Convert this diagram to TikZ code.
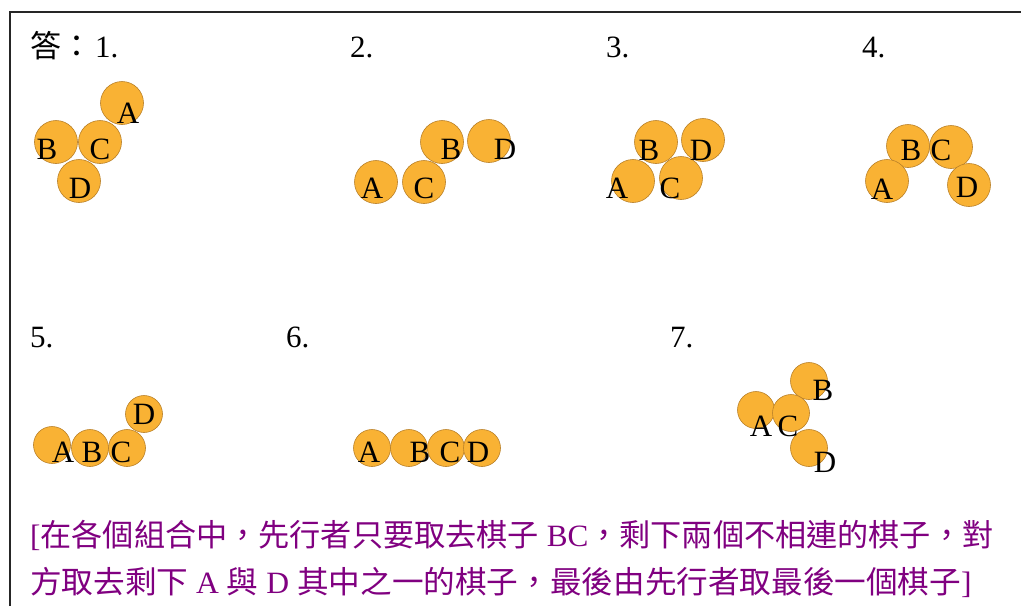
\documentclass[tikz,border=0pt]{standalone}
\usepackage{fontspec}
\setmainfont{Liberation Serif}
\newfontfamily\cjk{Noto Sans CJK TC}
\newcommand\zh[1]{{\cjk #1}}
\definecolor{chipfill}{RGB}{249,178,52}
\definecolor{chipedge}{RGB}{185,128,40}
\definecolor{notecol}{RGB}{128,0,128}
\begin{document}
\begin{tikzpicture}[x=1pt,y=-1pt,
  chip/.style={circle,fill=chipfill,draw=chipedge,line width=0.6pt,minimum size=43pt,inner sep=0pt},
  smallchip/.style={chip,minimum size=37pt},
  lab/.style={inner sep=0pt,font=\fontsize{31}{31}\selectfont},
  txt/.style={anchor=base west,inner sep=0pt,font=\fontsize{31}{37}\selectfont},
  note/.style={txt,text=notecol}]
\useasboundingbox (0,0) rectangle (1021,606);
\draw[line width=2.2pt,draw=black!85] (10,606) -- (10,12) -- (1021,12);

% headings
\node[txt] (h1) at (30,57) {\zh{答：}\hspace{3pt}1.};
\node[txt] (h2) at (350,57) {2.};
\node[txt] (h3) at (606,57) {3.};
\node[txt] (h4) at (862,57) {4.};
\node[txt] (h5) at (30,347) {5.};
\node[txt] (h6) at (286,347) {6.};
\node[txt] (h7) at (670,347) {7.};

% group 1
\node[chip] (g1A) at (122,103) {};
\node[chip] (g1B) at (56,142) {};
\node[chip] (g1C) at (100,142) {};
\node[chip] (g1D) at (79,181) {};
\node[lab] (l1A) at (128,113) {A};
\node[lab] (l1B) at (47,149) {B};
\node[lab] (l1C) at (100,149) {C};
\node[lab] (l1D) at (80,188) {D};

% group 2
\node[chip] (g2A) at (376,182) {};
\node[chip] (g2C) at (424,182) {};
\node[chip] (g2B) at (442,142) {};
\node[chip] (g2D) at (489,141) {};
\node[lab] (l2A) at (372,188) {A};
\node[lab] (l2C) at (424,188) {C};
\node[lab] (l2B) at (451,149) {B};
\node[lab] (l2D) at (505,149) {D};

% group 3
\node[chip] (g3B) at (656,142) {};
\node[chip] (g3D) at (703,140) {};
\node[chip] (g3A) at (633,181) {};
\node[chip] (g3C) at (681,178) {};
\node[lab] (l3B) at (649,150) {B};
\node[lab] (l3D) at (701,150) {D};
\node[lab] (l3A) at (617,188) {A};
\node[lab] (l3C) at (670,188) {C};

% group 4
\node[chip] (g4B) at (908,146) {};
\node[chip] (g4C) at (951,147) {};
\node[chip] (g4A) at (887,181) {};
\node[chip] (g4D) at (969,185) {};
\node[lab] (l4B) at (911,150) {B};
\node[lab] (l4C) at (941,150) {C};
\node[lab] (l4A) at (882,189) {A};
\node[lab] (l4D) at (967,187) {D};

% group 5
\node[smallchip] (g5A) at (52,445) {};
\node[smallchip] (g5B) at (90,448) {};
\node[smallchip] (g5C) at (127,448) {};
\node[smallchip] (g5D) at (144,414) {};
\node[lab] (l5A) at (63,452) {A};
\node[lab] (l5B) at (92,452) {B};
\node[lab] (l5C) at (121,452) {C};
\node[lab] (l5D) at (144,414) {D};

% group 6
\node[smallchip] (g6A) at (372,448) {};
\node[smallchip] (g6B) at (409,448) {};
\node[smallchip] (g6C) at (446,448) {};
\node[smallchip] (g6D) at (482,448) {};
\node[lab] (l6A) at (369,452) {A};
\node[lab] (l6B) at (420,452) {B};
\node[lab] (l6C) at (450,452) {C};
\node[lab] (l6D) at (478,452) {D};

% group 7
\node[smallchip] (g7B) at (809,381) {};
\node[smallchip] (g7A) at (756,410) {};
\node[smallchip] (g7C) at (791,413) {};
\node[smallchip] (g7D) at (809,448) {};
\node[lab] (l7B) at (823,390) {B};
\node[lab] (l7A) at (761,426) {A};
\node[lab] (l7C) at (788,426) {C};
\node[lab] (l7D) at (825,462) {D};

% note
\node[note] (n1) at (30,546) {\scalebox{1.005}[1]{[\zh{在各個組合中，先行者只要取去棋子} BC\zh{，剩下兩個不相連的棋子，對}}};
\node[note] (n2) at (30,593) {\scalebox{1.02}[1]{\zh{方取去剩下} A \zh{與} D \zh{其中之一的棋子，最後由先行者取最後一個棋子}]}};
\end{tikzpicture}
\end{document}
